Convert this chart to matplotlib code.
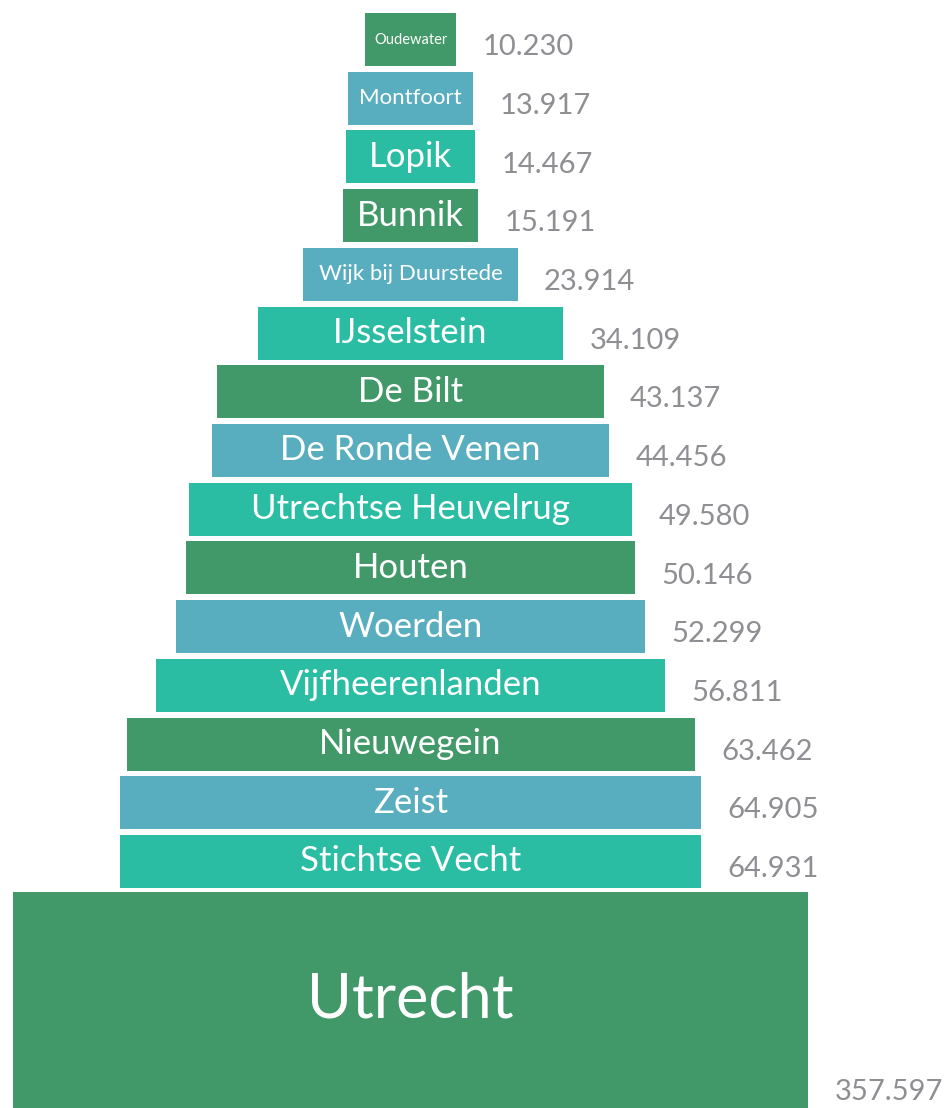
import numpy as np
import matplotlib.pyplot as plt

# inwoners per gemeente, provincie Utrecht
gemeenten = ["Oudewater", "Montfoort", "Lopik", "Bunnik", "Wijk bij Duurstede",
             "IJsselstein", "De Bilt", "De Ronde Venen", "Utrechtse Heuvelrug",
             "Houten", "Woerden", "Vijfheerenlanden", "Nieuwegein", "Zeist",
             "Stichtse Vecht", "Utrecht"]
inwoners = [10230, 13917, 14467, 15191, 23914, 34109, 43137, 44456, 49580,
            50146, 52299, 56811, 63462, 64905, 64931, 357597]

# Utrecht past niet, balk wordt afgekapt
max_shown = 88800

kleuren = ["#419868", "#58aebe", "#2abda4"]
naam_size = {"Oudewater": 10.5, "Montfoort": 16, "Wijk bij Duurstede": 16, "Utrecht": 44}

plt.rcParams['font.family'] = ['Lato', 'DejaVu Sans']

fig = plt.figure(figsize=(9.47, 11.08), dpi=100)
ax = fig.add_axes([0, 0, 1, 1])

n = len(gemeenten)
ypos = np.arange(n, dtype=float)
hoogte = np.full(n, 0.903)
# laatste (grote) balk loopt door tot onderkant
top_last = ypos[-2] + hoogte[-2] / 2 + 0.07
hoogte[-1] = 3.68
ypos[-1] = top_last + hoogte[-1] / 2

breedte = np.minimum(np.array(inwoners, dtype=float), max_shown)
cols = [kleuren[i % 3] for i in range(n)]

ax.barh(ypos, breedte, height=hoogte, left=-breedte / 2, color=cols, edgecolor='none')

for i, (naam, val) in enumerate(zip(gemeenten, inwoners)):
    ax.text(0, ypos[i], naam, ha='center', va='center', color='white',
            fontsize=naam_size.get(naam, 25))
    txt = f"{val:,}".replace(",", ".")
    if naam == "Utrecht":
        y_lab = ypos[i] + hoogte[i] / 2 - 0.4
    else:
        y_lab = ypos[i]
    ax.annotate(txt, (breedte[i] / 2, y_lab), xytext=(19, -5.5),
                textcoords='offset points', ha='left', va='center',
                color='#8e8e93', fontsize=21)

ax.set_xlim(-45866, 59940)
ax.set_ylim(18.2, -0.673)
ax.axis('off')

plt.savefig("out.png", dpi=100)
